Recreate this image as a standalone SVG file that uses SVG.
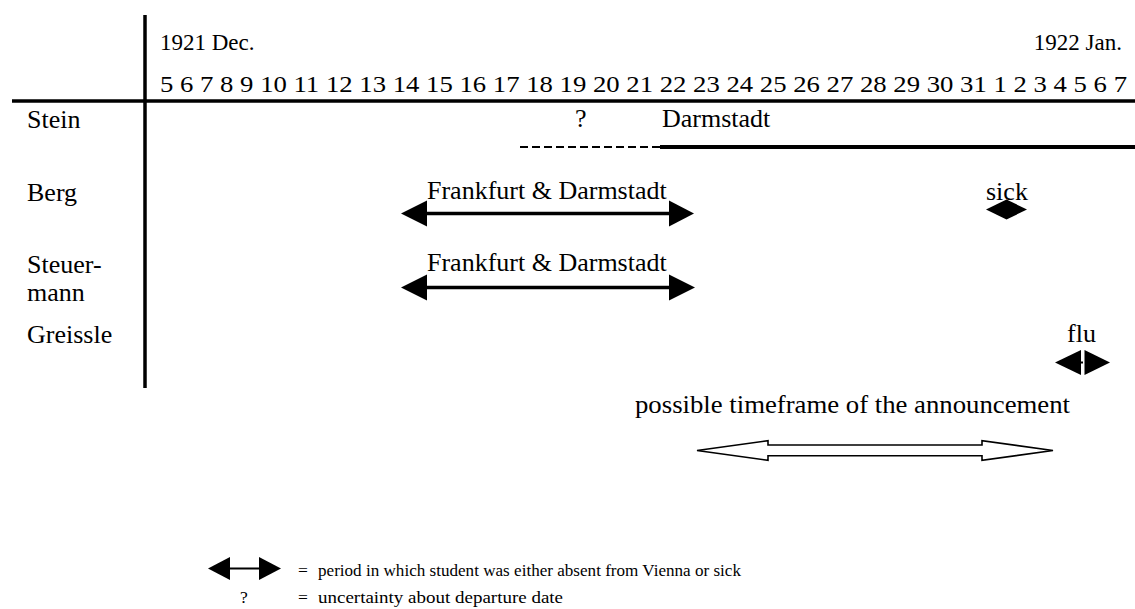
<svg xmlns="http://www.w3.org/2000/svg" width="1135" height="609" viewBox="0 0 1135 609">
<style>
text{font-family:"Liberation Serif","Times New Roman",serif;font-size:26px;fill:#000}
text.hd{font-size:23px}
text.lg{font-size:17.5px}
.grid{stroke:#000;stroke-width:3.5;fill:none}
.shaft{stroke:#000;stroke-width:3.5;fill:none}
.head{fill:#000;stroke:none}
</style>
<rect width="1135" height="609" fill="#fff"/>
<g id="grid">
<line class="grid" x1="145" y1="15" x2="145" y2="388"/>
<line class="grid" x1="12" y1="101" x2="1135" y2="101"/>
</g>
<g id="header">
<text class="hd" x="160" y="50">1921 Dec.</text>
<text class="hd" x="1122" y="50" text-anchor="end">1922 Jan.</text>
<text class="hd" x="160" y="92" textLength="967" lengthAdjust="spacingAndGlyphs">5 6 7 8 9 10 11 12 13 14 15 16 17 18 19 20 21 22 23 24 25 26 27 28 29 30 31 1 2 3 4 5 6 7</text>
</g>
<g id="stein">
<text x="27" y="128">Stein</text>
<text x="575" y="127">?</text>
<text x="662" y="127">Darmstadt</text>
</g>
<g id="berg">
<text x="27" y="201">Berg</text>
<text x="427" y="199">Frankfurt &amp; Darmstadt</text>
<text x="986" y="200">sick</text>
</g>
<g id="steuermann">
<text x="27" y="273">Steuer-</text>
<text x="27" y="301">mann</text>
<text x="427" y="271">Frankfurt &amp; Darmstadt</text>
</g>
<g id="greissle">
<text x="27" y="343">Greissle</text>
<text x="1067" y="342">flu</text>
</g>
<g id="timeframe">
<text x="635" y="413" textLength="435" lengthAdjust="spacingAndGlyphs">possible timeframe of the announcement</text>
</g>
<g id="connectors">
<line x1="520" y1="147" x2="660" y2="147" stroke="#000" stroke-width="2" stroke-dasharray="8,4"/>
<line x1="660" y1="147" x2="1135" y2="147" stroke="#000" stroke-width="4"/>
<line class="shaft" x1="420" y1="213.5" x2="676" y2="213.5"/>
<polygon class="head" points="401,213.5 427,200.5 427,226.5"/>
<polygon class="head" points="694,213.5 669,200.5 669,226.5"/>
<line class="shaft" x1="420" y1="287.5" x2="676" y2="287.5"/>
<polygon class="head" points="401,287.5 427,274.5 427,300.5"/>
<polygon class="head" points="695,287.5 669,274.5 669,300.5"/>
<polygon class="head" points="986,209.5 1006.5,199.5 1027,209.5 1006.5,219.5"/>
<polygon class="head" points="1055,362.5 1081,350 1081,375"/>
<line x1="1080" y1="362.5" x2="1083" y2="362.5" stroke="#000" stroke-width="2"/>
<polygon class="head" points="1110,362.5 1084.5,350 1084.5,375"/>
<polygon points="697,450.5 768,440.7 768,445 982,445 982,440.7 1053,450.5 982,460.3 982,455.7 768,455.7 768,460.3" fill="#fff" stroke="#000" stroke-width="1.6"/>
</g>
<g id="legend">
<line x1="225" y1="568.5" x2="264" y2="568.5" stroke="#000" stroke-width="2"/>
<polygon class="head" points="208,568.5 230,557 230,580"/>
<polygon class="head" points="281,568.5 259,557 259,580"/>
<text class="lg" x="298" y="576">=</text>
<text class="lg" x="318" y="576" textLength="423" lengthAdjust="spacingAndGlyphs">period in which student was either absent from Vienna or sick</text>
<text class="lg" x="240" y="603">?</text>
<text class="lg" x="298" y="603">=</text>
<text class="lg" x="318" y="603" textLength="245" lengthAdjust="spacingAndGlyphs">uncertainty about departure date</text>
</g>
</svg>
